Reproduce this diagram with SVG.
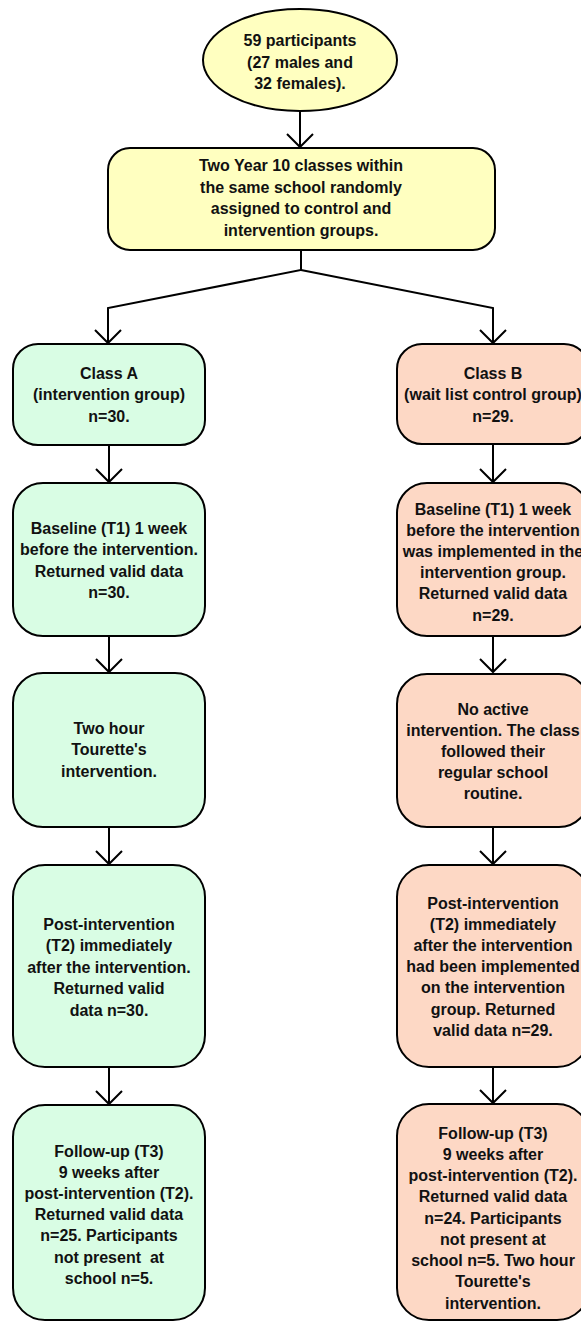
<svg xmlns="http://www.w3.org/2000/svg" width="581" height="1322" viewBox="0 0 581 1322">
<style>
text{font-family:"Liberation Sans",Arial,Helvetica,sans-serif;font-weight:bold;font-size:16px;fill:#111;text-anchor:middle;white-space:pre}
.y{fill:#ffffc0;stroke:#000;stroke-width:2}
.g{fill:#d9fde4;stroke:#000;stroke-width:2}
.p{fill:#fdd8c5;stroke:#000;stroke-width:2}
.c{fill:none;stroke:#000;stroke-width:2;stroke-linejoin:miter}
</style>
<defs>
<marker id="arr" markerUnits="userSpaceOnUse" markerWidth="32" markerHeight="32" viewBox="-16 -16 32 32" refX="0" refY="0" orient="auto">
<path d="M-13,-13 L0,0 L-13,13" fill="none" stroke="#000" stroke-width="2"/>
</marker>
</defs>
<rect width="581" height="1322" fill="#fff"/>
<g id="connectors">
<path class="c" d="M300,111 L300,147" marker-end="url(#arr)"/>
<path class="c" d="M301,250 L301,270 L108,308 L108,343" marker-end="url(#arr)"/>
<path class="c" d="M301,270 L493,308 L493,343" marker-end="url(#arr)"/>
<path class="c" d="M109,445 L109,482" marker-end="url(#arr)"/>
<path class="c" d="M109,636 L109,672" marker-end="url(#arr)"/>
<path class="c" d="M109,827 L109,864" marker-end="url(#arr)"/>
<path class="c" d="M109,1067 L109,1104" marker-end="url(#arr)"/>
<path class="c" d="M493,444 L493,482" marker-end="url(#arr)"/>
<path class="c" d="M493,636 L493,672" marker-end="url(#arr)"/>
<path class="c" d="M493,827 L493,864" marker-end="url(#arr)"/>
<path class="c" d="M493,1067 L493,1103" marker-end="url(#arr)"/>
</g>
<g id="participants">
<ellipse class="y" cx="300" cy="60" rx="97" ry="51"/>
<text><tspan x="300" y="46">59 participants</tspan><tspan x="300" y="67.5">(27 males and</tspan><tspan x="300" y="89">32 females).</tspan></text>
</g>
<g id="randomised">
<rect class="y" x="108" y="148" width="387" height="102" rx="22"/>
<text><tspan x="301" y="171">Two Year 10 classes within</tspan><tspan x="301" y="192.5">the same school randomly</tspan><tspan x="301" y="214">assigned to control and</tspan><tspan x="301" y="235.5">intervention groups.</tspan></text>
</g>
<g id="classA">
<rect class="g" x="13" y="344" width="192" height="101" rx="25"/>
<text><tspan x="109" y="378.5">Class A</tspan><tspan x="109" y="400">(intervention group)</tspan><tspan x="109" y="421.5">n=30.</tspan></text>
</g>
<g id="baselineA">
<rect class="g" x="13" y="483" width="192" height="153" rx="30"/>
<text><tspan x="109" y="533.5">Baseline (T1) 1 week</tspan><tspan x="109" y="555">before the intervention.</tspan><tspan x="109" y="576.5">Returned valid data</tspan><tspan x="109" y="598">n=30.</tspan></text>
</g>
<g id="interventionA">
<rect class="g" x="13" y="673" width="192" height="154" rx="30"/>
<text><tspan x="109" y="733.5">Two hour</tspan><tspan x="109" y="755">Tourette's</tspan><tspan x="109" y="776.5">intervention.</tspan></text>
</g>
<g id="postA">
<rect class="g" x="13" y="865" width="192" height="202" rx="32"/>
<text><tspan x="109" y="929.5">Post-intervention</tspan><tspan x="109" y="951">(T2) immediately</tspan><tspan x="109" y="972.5">after the intervention.</tspan><tspan x="109" y="994">Returned valid</tspan><tspan x="109" y="1015.5">data n=30.</tspan></text>
</g>
<g id="followA">
<rect class="g" x="13" y="1105" width="192" height="215" rx="32"/>
<text><tspan x="109" y="1156.5">Follow-up (T3)</tspan><tspan x="109" y="1177.7">9 weeks after</tspan><tspan x="109" y="1198.9">post-intervention (T2).</tspan><tspan x="109" y="1220.1">Returned valid data</tspan><tspan x="109" y="1241.3">n=25. Participants</tspan><tspan x="109" y="1262.5">not present  at</tspan><tspan x="109" y="1283.7">school n=5.</tspan></text>
</g>
<g id="classB">
<rect class="p" x="397" y="344" width="192" height="100" rx="25"/>
<text><tspan x="493" y="378.5">Class B</tspan><tspan x="493" y="400">(wait list control group)</tspan><tspan x="493" y="421.5">n=29.</tspan></text>
</g>
<g id="baselineB">
<rect class="p" x="397" y="483" width="192" height="153" rx="30"/>
<text><tspan x="493" y="514.5">Baseline (T1) 1 week</tspan><tspan x="493" y="535.7">before the intervention</tspan><tspan x="493" y="556.9">was implemented in the</tspan><tspan x="493" y="578.1">intervention group.</tspan><tspan x="493" y="599.3">Returned valid data</tspan><tspan x="493" y="620.5">n=29.</tspan></text>
</g>
<g id="noInterventionB">
<rect class="p" x="397" y="674" width="192" height="153" rx="30"/>
<text><tspan x="493" y="714.5">No active</tspan><tspan x="493" y="735.5">intervention. The class</tspan><tspan x="493" y="757">followed their</tspan><tspan x="493" y="778">regular school</tspan><tspan x="493" y="799">routine.</tspan></text>
</g>
<g id="postB">
<rect class="p" x="397" y="865" width="192" height="202" rx="32"/>
<text><tspan x="493" y="908.5">Post-intervention</tspan><tspan x="493" y="929.7">(T2) immediately</tspan><tspan x="493" y="950.9">after the intervention</tspan><tspan x="493" y="972.1">had been implemented</tspan><tspan x="493" y="993.3">on the intervention</tspan><tspan x="493" y="1014.5">group. Returned</tspan><tspan x="493" y="1035.7">valid data n=29.</tspan></text>
</g>
<g id="followB">
<rect class="p" x="397" y="1104" width="192" height="216" rx="32"/>
<text><tspan x="493" y="1138.5">Follow-up (T3)</tspan><tspan x="493" y="1159.8">9 weeks after</tspan><tspan x="493" y="1181">post-intervention (T2).</tspan><tspan x="493" y="1202.3">Returned valid data</tspan><tspan x="493" y="1223.5">n=24. Participants</tspan><tspan x="493" y="1244.8">not present at</tspan><tspan x="493" y="1266">school n=5. Two hour</tspan><tspan x="493" y="1287.3">Tourette's</tspan><tspan x="493" y="1308.5">intervention.</tspan></text>
</g>
</svg>
